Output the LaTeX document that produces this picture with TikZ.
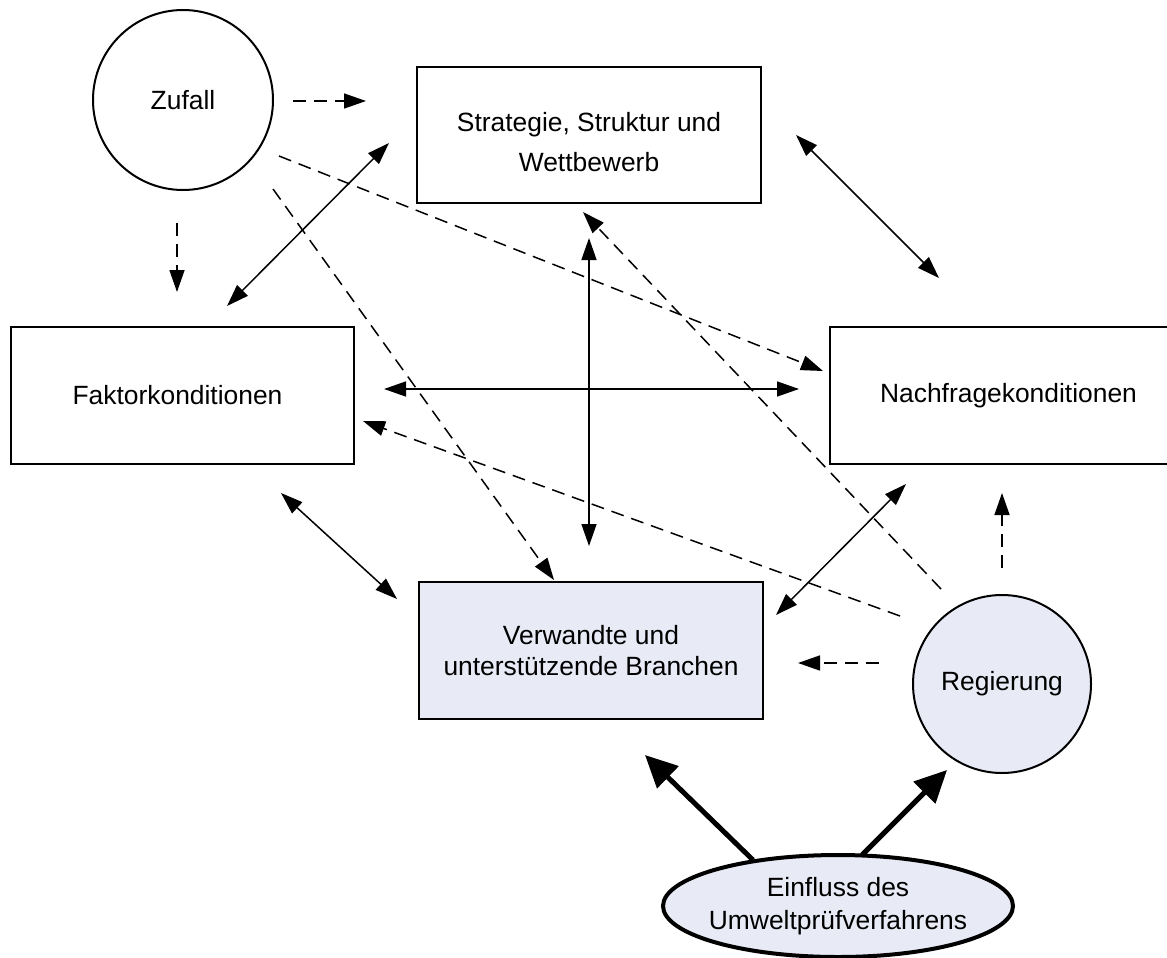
\documentclass[tikz,border=0pt]{standalone}
\usepackage{fontspec}
\setmainfont{Liberation Sans}
\usetikzlibrary{arrows.meta,shapes.geometric}
\definecolor{paleblue}{RGB}{232,234,245}
\tikzset{
  box/.style={draw,line width=1pt,inner sep=0pt,align=center,font=\fontsize{13.2}{15.5}\selectfont},
  roundbox/.style={box,circle},
  dasharrow/.style={line width=0.75pt,dash pattern=on 6.5pt off 4pt,-{Triangle[length=11pt,width=7.5pt]}},
  duoarrow/.style={line width=0.75pt,{Triangle[length=11pt,width=7.5pt]}-{Triangle[length=11pt,width=7.5pt]}},
  bigarrow/.style={line width=2.5pt,-{Triangle[length=16pt,width=15pt]}}
}
\begin{document}
\begin{tikzpicture}[x=0.5pt,y=-0.5pt]
\useasboundingbox (0,0) rectangle (1167,958);
% nodes
\node[roundbox,minimum size=90pt] (zufall) at (183,100) {Zufall};
\node[box,minimum width=172pt,minimum height=68pt] (strat) at (589,135) {\rule{0pt}{16.5pt}Strategie, Struktur und\\[4.5pt]Wettbewerb};
\node[box,minimum width=171.5pt,minimum height=68.5pt] (faktor) at (182.5,395.5) {Faktorkonditionen\hspace*{5pt}};
\node[box,minimum width=179pt,minimum height=68.5pt] (nach) at (1008.5,395.5) {Nachfragekonditionen};
\node[box,fill=paleblue,minimum width=172pt,minimum height=68.5pt] (verw) at (591,650.5) {Verwandte und\\unterstützende Branchen};
\node[roundbox,fill=paleblue,minimum size=89pt] (reg) at (1002,684) {Regierung};
\node[box,ellipse,fill=paleblue,line width=2pt,inner xsep=-3pt,inner ysep=2pt,minimum width=175pt,minimum height=51pt] (einfl) at (838,906) {Einfluss des\\[1pt]Umweltprüfverfahrens};
% connector end points
\coordinate (zA1) at (293,101);  \coordinate (zA2) at (366,101);
\coordinate (zB1) at (177,223);  \coordinate (zB2) at (177,292);
\coordinate (zC1) at (279,156);  \coordinate (zC2) at (823,371);
\coordinate (zD1) at (273,189);  \coordinate (zD2) at (554,580);
\coordinate (fs1) at (227,306);  \coordinate (fs2) at (389,143);
\coordinate (sn1) at (796,135);  \coordinate (sn2) at (939,278);
\coordinate (fn1) at (384,389);  \coordinate (fn2) at (799,389);
\coordinate (sv1) at (589,238);  \coordinate (sv2) at (589,546);
\coordinate (fv1) at (281,493);  \coordinate (fv2) at (397,599);
\coordinate (nv1) at (906,484);  \coordinate (nv2) at (776,615);
\coordinate (rA1) at (941,589);  \coordinate (rA2) at (583,212);
\coordinate (rB1) at (900,616);  \coordinate (rB2) at (363,421);
\coordinate (rC1) at (879,663);  \coordinate (rC2) at (798,663);
\coordinate (rD1) at (1002,568); \coordinate (rD2) at (1002,493);
\coordinate (eA1) at (753,860);  \coordinate (eA2) at (645,755);
\coordinate (eB1) at (862,855);  \coordinate (eB2) at (947,770);
% Zufall influences
\draw[dasharrow] (zA1) -- (zA2);
\draw[dasharrow] (zB1) -- (zB2);
\draw[dasharrow] (zC1) -- (zC2);
\draw[dasharrow] (zD1) -- (zD2);
% diamond relations
\draw[duoarrow] (fs1) -- (fs2);
\draw[duoarrow] (sn1) -- (sn2);
\draw[duoarrow] (fn1) -- (fn2);
\draw[duoarrow] (sv1) -- (sv2);
\draw[duoarrow] (fv1) -- (fv2);
\draw[duoarrow] (nv1) -- (nv2);
% Regierung influences
\draw[dasharrow] (rA1) -- (rA2);
\draw[dasharrow] (rB1) -- (rB2);
\draw[dasharrow] (rC1) -- (rC2);
\draw[dasharrow] (rD1) -- (rD2);
% Einfluss
\draw[bigarrow] (eA1) -- (eA2);
\draw[bigarrow] (eB1) -- (eB2);
\end{tikzpicture}
\end{document}
